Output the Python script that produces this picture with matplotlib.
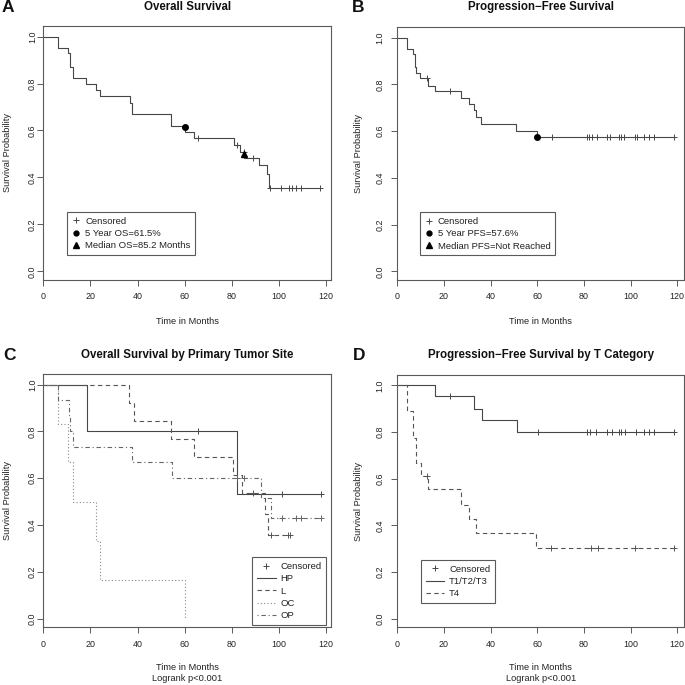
import numpy as np
import matplotlib
matplotlib.use("Agg")
import matplotlib.pyplot as plt
from matplotlib.lines import Line2D
from matplotlib import rcParams

rcParams["font.family"] = ["Liberation Sans", "DejaVu Sans"]

# ---- Panel A: overall survival ----
os_times = [6.4, 10.6, 11.5, 12.5, 18.2, 22.4, 24.1, 36.9, 37.8, 54.0, 60.3, 64.1, 80.9, 83.5, 85.3, 91.6, 94.8, 95.8]
os_surv = [0.953, 0.929, 0.872, 0.825, 0.800, 0.772, 0.745, 0.715, 0.671, 0.617, 0.593, 0.566, 0.538, 0.509, 0.484, 0.451, 0.413, 0.357]
os_cens = [65.6, 82.0, 85.2, 89.1, 96.4, 101.0, 104.1, 105.7, 107.2, 109.2, 117.6]
os_5yr = (60.0, 0.615)
os_median = (85.2, 0.50)

# ---- Panel B: progression-free survival ----
pfs_times = [4.3, 6.9, 7.4, 8.1, 9.9, 13.3, 16.2, 27.4, 30.9, 32.7, 33.9, 36.0, 51.0, 59.8]
pfs_surv = [0.953, 0.929, 0.875, 0.849, 0.825, 0.794, 0.770, 0.742, 0.714, 0.690, 0.660, 0.631, 0.602, 0.576]
pfs_cens = [12.6, 22.6, 66.2, 81.4, 82.2, 83.5, 85.5, 89.7, 91.2, 95.0, 95.7, 97.3,
            102.0, 102.9, 105.6, 107.7, 110.1, 118.6]
pfs_5yr = (60.0, 0.576)

# ---- Panel C: OS by primary tumor site ----
site_names = ["HP", "L", "OC", "OP"]
hp_times = [18.4, 82.0]
hp_surv = [0.800, 0.533]
hp_cens = [65.8, 101.1, 117.7]
l_times = [36.5, 38.6, 54.0, 64.1, 80.6, 84.3, 94.3, 95.5]
l_surv = [0.923, 0.846, 0.769, 0.692, 0.615, 0.538, 0.449, 0.359]
l_cens = [89.1, 96.6, 103.7, 104.7]
oc_times = [6.4, 10.6, 12.5, 22.4, 24.2, 60.0]
oc_surv = [0.833, 0.667, 0.500, 0.333, 0.167, 0.0]
oc_cens = []
op_times = [6.4, 11.0, 11.5, 12.7, 37.8, 54.5, 92.5, 96.5]
op_surv = [0.933, 0.867, 0.800, 0.733, 0.667, 0.600, 0.514, 0.428]
op_cens = [82.0, 85.2, 101.1, 107.2, 109.2, 117.7]

# ---- Panel D: PFS by T category ----
tcat_names = ["T1/T2/T3", "T4"]
t13_times = [16.2, 33.0, 36.2, 51.2]
t13_surv = [0.953, 0.900, 0.850, 0.802]
t13_cens = [22.6, 60.4, 81.4, 82.6, 85.2, 90.0, 92.0, 95.1, 96.1, 97.6, 102.3, 105.9, 107.8, 110.2, 118.6]
t4_times = [4.0, 6.9, 8.0, 10.0, 13.3, 27.3, 30.9, 33.9, 59.5]
t4_surv = [0.889, 0.775, 0.668, 0.612, 0.555, 0.488, 0.427, 0.367, 0.305]
t4_cens = [12.6, 65.7, 83.0, 86.2, 101.9, 118.6]

LINE = "#474747"
BOX = "#5a5a5a"
W = 685.0

fig = plt.figure(figsize=(6.85, 6.85), dpi=100)
fig.set_facecolor("white")


def px_axes(l, t, r, b):
    return fig.add_axes([l / W, 1 - b / W, (r - l) / W, (b - t) / W])


def km(ax, times, surv, cens, ls="-", color=LINE):
    t = np.array([0.0] + list(times))
    s = np.array([1.0] + list(surv))
    end = max([t[-1]] + list(cens))
    x = np.append(t, end)
    y = np.append(s, s[-1])
    ax.step(x, y, where="post", color=color, lw=0.8, linestyle=ls)
    if len(cens):
        c = np.array(cens)
        cy = s[np.searchsorted(t, c, side="right") - 1]
        ax.plot(c, cy, "+", color=color, ms=4.5, mew=0.7)


def style(ax, xmax, ypad):
    ax.set_xlim(0, xmax)
    ax.set_ylim(-0.037, 1.045)
    ax.set_xticks([0, 20, 40, 60, 80, 100, 120])
    ax.set_yticks([0.0, 0.2, 0.4, 0.6, 0.8, 1.0])
    ax.set_yticklabels(["0.0", "0.2", "0.4", "0.6", "0.8", "1.0"], rotation=90, va="center")
    ax.tick_params(axis="x", length=4, width=0.7, color=BOX, labelsize=6.4, pad=5, labelcolor="#222")
    ax.tick_params(axis="y", length=4, width=0.7, color=BOX, labelsize=6.4, pad=ypad, labelcolor="#222")
    for sp in ax.spines.values():
        sp.set_color(BOX)
        sp.set_linewidth(0.8)
    return ax


def legend(ax, handles, labels, anchor, loc, hl):
    lg = ax.legend(handles, labels, loc=loc, bbox_to_anchor=anchor, fontsize=6.8,
                   frameon=True, fancybox=False, edgecolor=BOX, framealpha=1,
                   handlelength=hl, handletextpad=0.5, labelspacing=0.35,
                   borderpad=0.5, borderaxespad=0)
    lg.get_frame().set_linewidth(0.8)
    for t in lg.get_texts():
        t.set_color("#222")


# A
axA = px_axes(43.3, 26, 331, 280)
km(axA, os_times, os_surv, os_cens)
axA.plot(*os_5yr, "o", color="black", ms=4)
axA.plot(*os_median, "^", color="black", ms=4.5)
style(axA, 122.1, 0.5)
legend(axA,
       [Line2D([], [], ls="none", marker="+", color=LINE, ms=5, mew=0.7),
        Line2D([], [], ls="none", marker="o", color="black", ms=3.5),
        Line2D([], [], ls="none", marker="^", color="black", ms=4)],
       ["Censored", "5 Year OS=61.5%", "Median OS=85.2 Months"],
       (0.083, 0.268), "upper left", 0.9)

# B
axB = px_axes(397.3, 27, 684, 280)
km(axB, pfs_times, pfs_surv, pfs_cens)
axB.plot(*pfs_5yr, "o", color="black", ms=4)
style(axB, 122.9, 5.0)
legend(axB,
       [Line2D([], [], ls="none", marker="+", color=LINE, ms=5, mew=0.7),
        Line2D([], [], ls="none", marker="o", color="black", ms=3.5),
        Line2D([], [], ls="none", marker="^", color="black", ms=4)],
       ["Censored", "5 Year PFS=57.6%", "Median PFS=Not Reached"],
       (0.079, 0.268), "upper left", 0.9)

# C
axC = px_axes(43.3, 374, 331, 627.3)
site_styles = ["-", (0, (4, 3)), (0, (1, 2)), (0, (1, 2.5, 4, 2.5))]
site_colors = [LINE, "#555555", "#8a8a8a", "#666666"]
for (tt, ss, cc), ls, col in zip([(hp_times, hp_surv, hp_cens), (l_times, l_surv, l_cens),
                                  (oc_times, oc_surv, oc_cens), (op_times, op_surv, op_cens)],
                                 site_styles, site_colors):
    km(axC, tt, ss, cc, ls=ls, color=col)
style(axC, 122.1, 0.5)
legend(axC,
       [Line2D([], [], ls="none", marker="+", color=LINE, ms=5, mew=0.7)] +
       [Line2D([], [], ls=ls, color=col, lw=0.8) for ls, col in zip(site_styles, site_colors)],
       ["Censored"] + site_names, (0.984, 0.009), "lower right", 2.0)

# D
axD = px_axes(397.3, 375, 684, 627.3)
t_styles = ["-", (0, (4, 3))]
t_colors = [LINE, "#555555"]
km(axD, t13_times, t13_surv, t13_cens, ls=t_styles[0], color=t_colors[0])
km(axD, t4_times, t4_surv, t4_cens, ls=t_styles[1], color=t_colors[1])
style(axD, 122.9, 5.0)
legend(axD,
       [Line2D([], [], ls="none", marker="+", color=LINE, ms=5, mew=0.7)] +
       [Line2D([], [], ls=ls, color=col, lw=0.8) for ls, col in zip(t_styles, t_colors)],
       ["Censored"] + tcat_names, (0.082, 0.267), "upper left", 2.0)

# titles, panel letters, axis labels
titles = ["Overall Survival", "Progression\u2212Free Survival",
          "Overall Survival by Primary Tumor Site", "Progression\u2212Free Survival by T Category"]
letters = ["A", "B", "C", "D"]
title_y = [6.5, 7, 355, 355]
letter_pos = [(2, 8), (352, 8), (3, 356), (353, 356)]
ylabel_x = [7.5, 358, 7.5, 358]
for ax, ttl, ty, let, lp, yx in zip([axA, axB, axC, axD], titles, title_y, letters, letter_pos, ylabel_x):
    bb = ax.get_position()
    cx = (bb.x0 + bb.x1) / 2
    fig.text(cx, 1 - ty / W, ttl, ha="center", va="center", fontsize=8.3, fontweight="bold", color="#111")
    fig.text(lp[0] / W, 1 - lp[1] / W, let, ha="left", va="center", fontsize=12.5, fontweight="bold", color="#111")
    fig.text(yx / W, (bb.y0 + bb.y1) / 2, "Survival Probability", rotation=90,
             ha="center", va="center", fontsize=6.7, color="#222")

for ax in [axA, axB]:
    bb = ax.get_position()
    fig.text((bb.x0 + bb.x1) / 2, 1 - 321 / W, "Time in Months", ha="center", va="center", fontsize=6.7, color="#222")
for ax in [axC, axD]:
    bb = ax.get_position()
    fig.text((bb.x0 + bb.x1) / 2, 1 - 667 / W, "Time in Months", ha="center", va="center", fontsize=6.7, color="#222")
    fig.text((bb.x0 + bb.x1) / 2, 1 - 678.5 / W, "Logrank p<0.001", ha="center", va="center", fontsize=6.7, color="#222")

fig.savefig("out.png", dpi=100)
